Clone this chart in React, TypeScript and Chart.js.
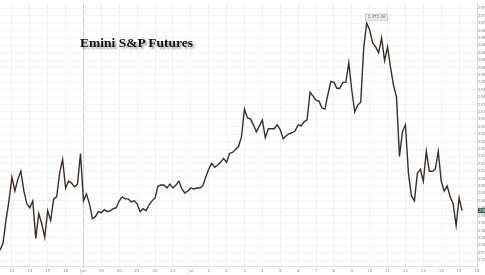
import React, { useEffect, useRef } from "react";
import { Chart, registerables } from "chart.js";

Chart.register(...registerables);

// Day tick labels along the bottom (one per trading day)
const dayLabels = [
  "13", "14", "15", "16", "Jun", "19", "20", "21", "22", "23",
  "Jul", "1", "2", "3", "4", "5", "6", "7", "8", "9", "10",
  "11", "12", "13", "14", "15", "16",
];
const separatorLabel = "Jun";

// Price series (sampled evenly, 6 samples per day)
const prices = [
  2380, 2382.8, 2392, 2400, 2409.6, 2404, 2408.8, 2412, 2404, 2398.8,
  2397.2, 2400, 2384.8, 2394.8, 2390.8, 2385.2, 2396, 2392, 2400.8, 2401.6,
  2411.2, 2416.8, 2405.2, 2408, 2407.2, 2405.6, 2406.8, 2419.2, 2400, 2402.8,
  2398.8, 2392.8, 2393.6, 2395.6, 2395.2, 2396.4, 2395.6, 2396, 2396.8, 2397.2,
  2400, 2401.6, 2400.8, 2400.8, 2399.6, 2400, 2398.8, 2395.6, 2396.8, 2396,
  2398.4, 2400, 2401.2, 2406, 2406.4, 2406.4, 2405.2, 2406.8, 2405.2, 2406.4,
  2408, 2404.8, 2403.2, 2404, 2405.2, 2404.8, 2405.2, 2405.2, 2406, 2409.6,
  2412.8, 2415.2, 2413.6, 2414.4, 2415.6, 2417.2, 2415.6, 2419.2, 2419.6, 2420.8,
  2422, 2426, 2437.2, 2433.6, 2433.2, 2430.8, 2428, 2430.4, 2432.8, 2425.6,
  2429.2, 2429.2, 2429.2, 2430.8, 2428.8, 2425.2, 2426.4, 2427.2, 2427.6, 2428.4,
  2430.8, 2430.4, 2432, 2432.8, 2444, 2442.4, 2440.8, 2440.4, 2437.6, 2437.2,
  2443.2, 2448.4, 2448, 2445.6, 2445.6, 2448, 2448, 2456, 2444.8, 2436,
  2438.8, 2440, 2462, 2472, 2469.2, 2464, 2462.4, 2460, 2466, 2456.8,
  2462.4, 2454, 2446.8, 2442, 2418, 2428, 2430.8, 2411.2, 2402, 2400,
  2411.2, 2412.8, 2408, 2420, 2412, 2412, 2412.8, 2420, 2408, 2404,
  2406, 2401.6, 2398.8, 2390, 2401.2, 2396,
];

const yMin = 2373.6;
const yMax = 2480;
const yStep = 3;
const firstDayIndex = 4;
const samplesPerDay = 6;

const categoryCount = firstDayIndex + (dayLabels.length - 1) * samplesPerDay + 1;
const categories: string[] = Array.from({ length: categoryCount }, (_, i) => {
  const k = (i - firstDayIndex) / samplesPerDay;
  return i >= firstDayIndex && Number.isInteger(k) ? dayLabels[k] : "";
});

const fmt = (v: number) =>
  v.toLocaleString("en-US", { minimumFractionDigits: 2, maximumFractionDigits: 2 });

const markersPlugin = {
  id: "markers",
  afterDatasetsDraw(chart: any) {
    const { ctx, scales } = chart;
    const xs = scales.x;
    const ys = scales.y;
    // peak tag
    let maxI = 0;
    prices.forEach((p, i) => {
      if (p > prices[maxI]) maxI = i;
    });
    const px = xs.getPixelForValue(maxI);
    const py = ys.getPixelForValue(prices[maxI]);
    ctx.save();
    ctx.font = "4px 'DejaVu Sans'";
    const txt = fmt(prices[maxI]);
    const tw = ctx.measureText(txt).width + 4;
    ctx.fillStyle = "#f2f2f2";
    ctx.strokeStyle = "#a8a8a8";
    ctx.lineWidth = 0.6;
    ctx.fillRect(px - 1, py - 9, tw, 6);
    ctx.strokeRect(px - 1, py - 9, tw, 6);
    ctx.fillStyle = "#555";
    ctx.textBaseline = "middle";
    ctx.fillText(txt, px + 1, py - 6);
    // last price badge
    const last = prices[prices.length - 1];
    const ly = ys.getPixelForValue(last);
    const bx = chart.chartArea.right + 1;
    ctx.fillStyle = "#2d5b48";
    ctx.fillRect(bx, ly - 2.5, chart.width - bx, 5);
    ctx.fillStyle = "#ffffff";
    ctx.fillText(String(last), bx + 1, ly);
    ctx.restore();
  },
};

export default function App() {
  const ref = useRef<HTMLCanvasElement | null>(null);

  useEffect(() => {
    if (!ref.current) return;
    const chart = new Chart(ref.current, {
      type: "line",
      data: {
        labels: categories,
        datasets: [
          {
            data: prices,
            borderColor: "#3b2e27",
            borderWidth: 1.4,
            pointRadius: 0,
            tension: 0,
            fill: false,
          },
        ],
      },
      options: {
        animation: false,
        responsive: true,
        maintainAspectRatio: false,
        layout: { padding: 0 },
        plugins: {
          legend: { display: false },
          tooltip: { enabled: false },
        },
        scales: {
          x: {
            type: "category",
            offset: false,
            afterBuildTicks: (scale: any) => {
              scale.ticks = scale.ticks.filter((t: any) => categories[t.value] !== "");
            },
            afterFit: (scale: any) => {
              scale.height = 9;
            },
            ticks: {
              autoSkip: false,
              maxRotation: 0,
              padding: 1,
              color: "#8a8a8a",
              font: { size: 4, family: "DejaVu Sans" },
              callback: (v: any) => categories[v as number],
            },
            grid: {
              color: (c: any) =>
                c.tick && categories[c.tick.value] === separatorLabel ? "#cccccc" : "#f0f0f0",
              lineWidth: 1,
              tickLength: 2,
            },
            border: { display: true, color: "#dddddd" },
          },
          y: {
            position: "right",
            min: yMin,
            max: yMax,
            afterFit: (scale: any) => {
              scale.width = 8;
            },
            ticks: {
              stepSize: yStep,
              includeBounds: false,
              autoSkip: false,
              padding: 1,
              color: "#8a8a8a",
              font: { size: 4, family: "DejaVu Sans" },
              callback: (v: any) => String(v),
            },
            grid: { color: "#f3f3f3", lineWidth: 1, tickLength: 0 },
            border: { display: true, color: "#d8d8d8" },
          },
        },
      },
      plugins: [markersPlugin],
    });
    return () => chart.destroy();
  }, []);

  return (
    <div
      style={{
        position: "fixed",
        left: 0,
        top: 0,
        width: 485,
        height: 275,
        background: "#ffffff",
      }}
    >
      <canvas ref={ref} />
      <div
        style={{
          position: "absolute",
          left: 80,
          top: 36,
          fontFamily: "'Liberation Serif', 'Times New Roman', serif",
          fontWeight: "bold",
          fontSize: 13.5,
          lineHeight: 1,
          color: "#111",
          whiteSpace: "nowrap",
          textShadow: "2px 2px 2px rgba(0,0,0,0.35)",
        }}
      >
        Emini S&amp;P Futures
      </div>
    </div>
  );
}
